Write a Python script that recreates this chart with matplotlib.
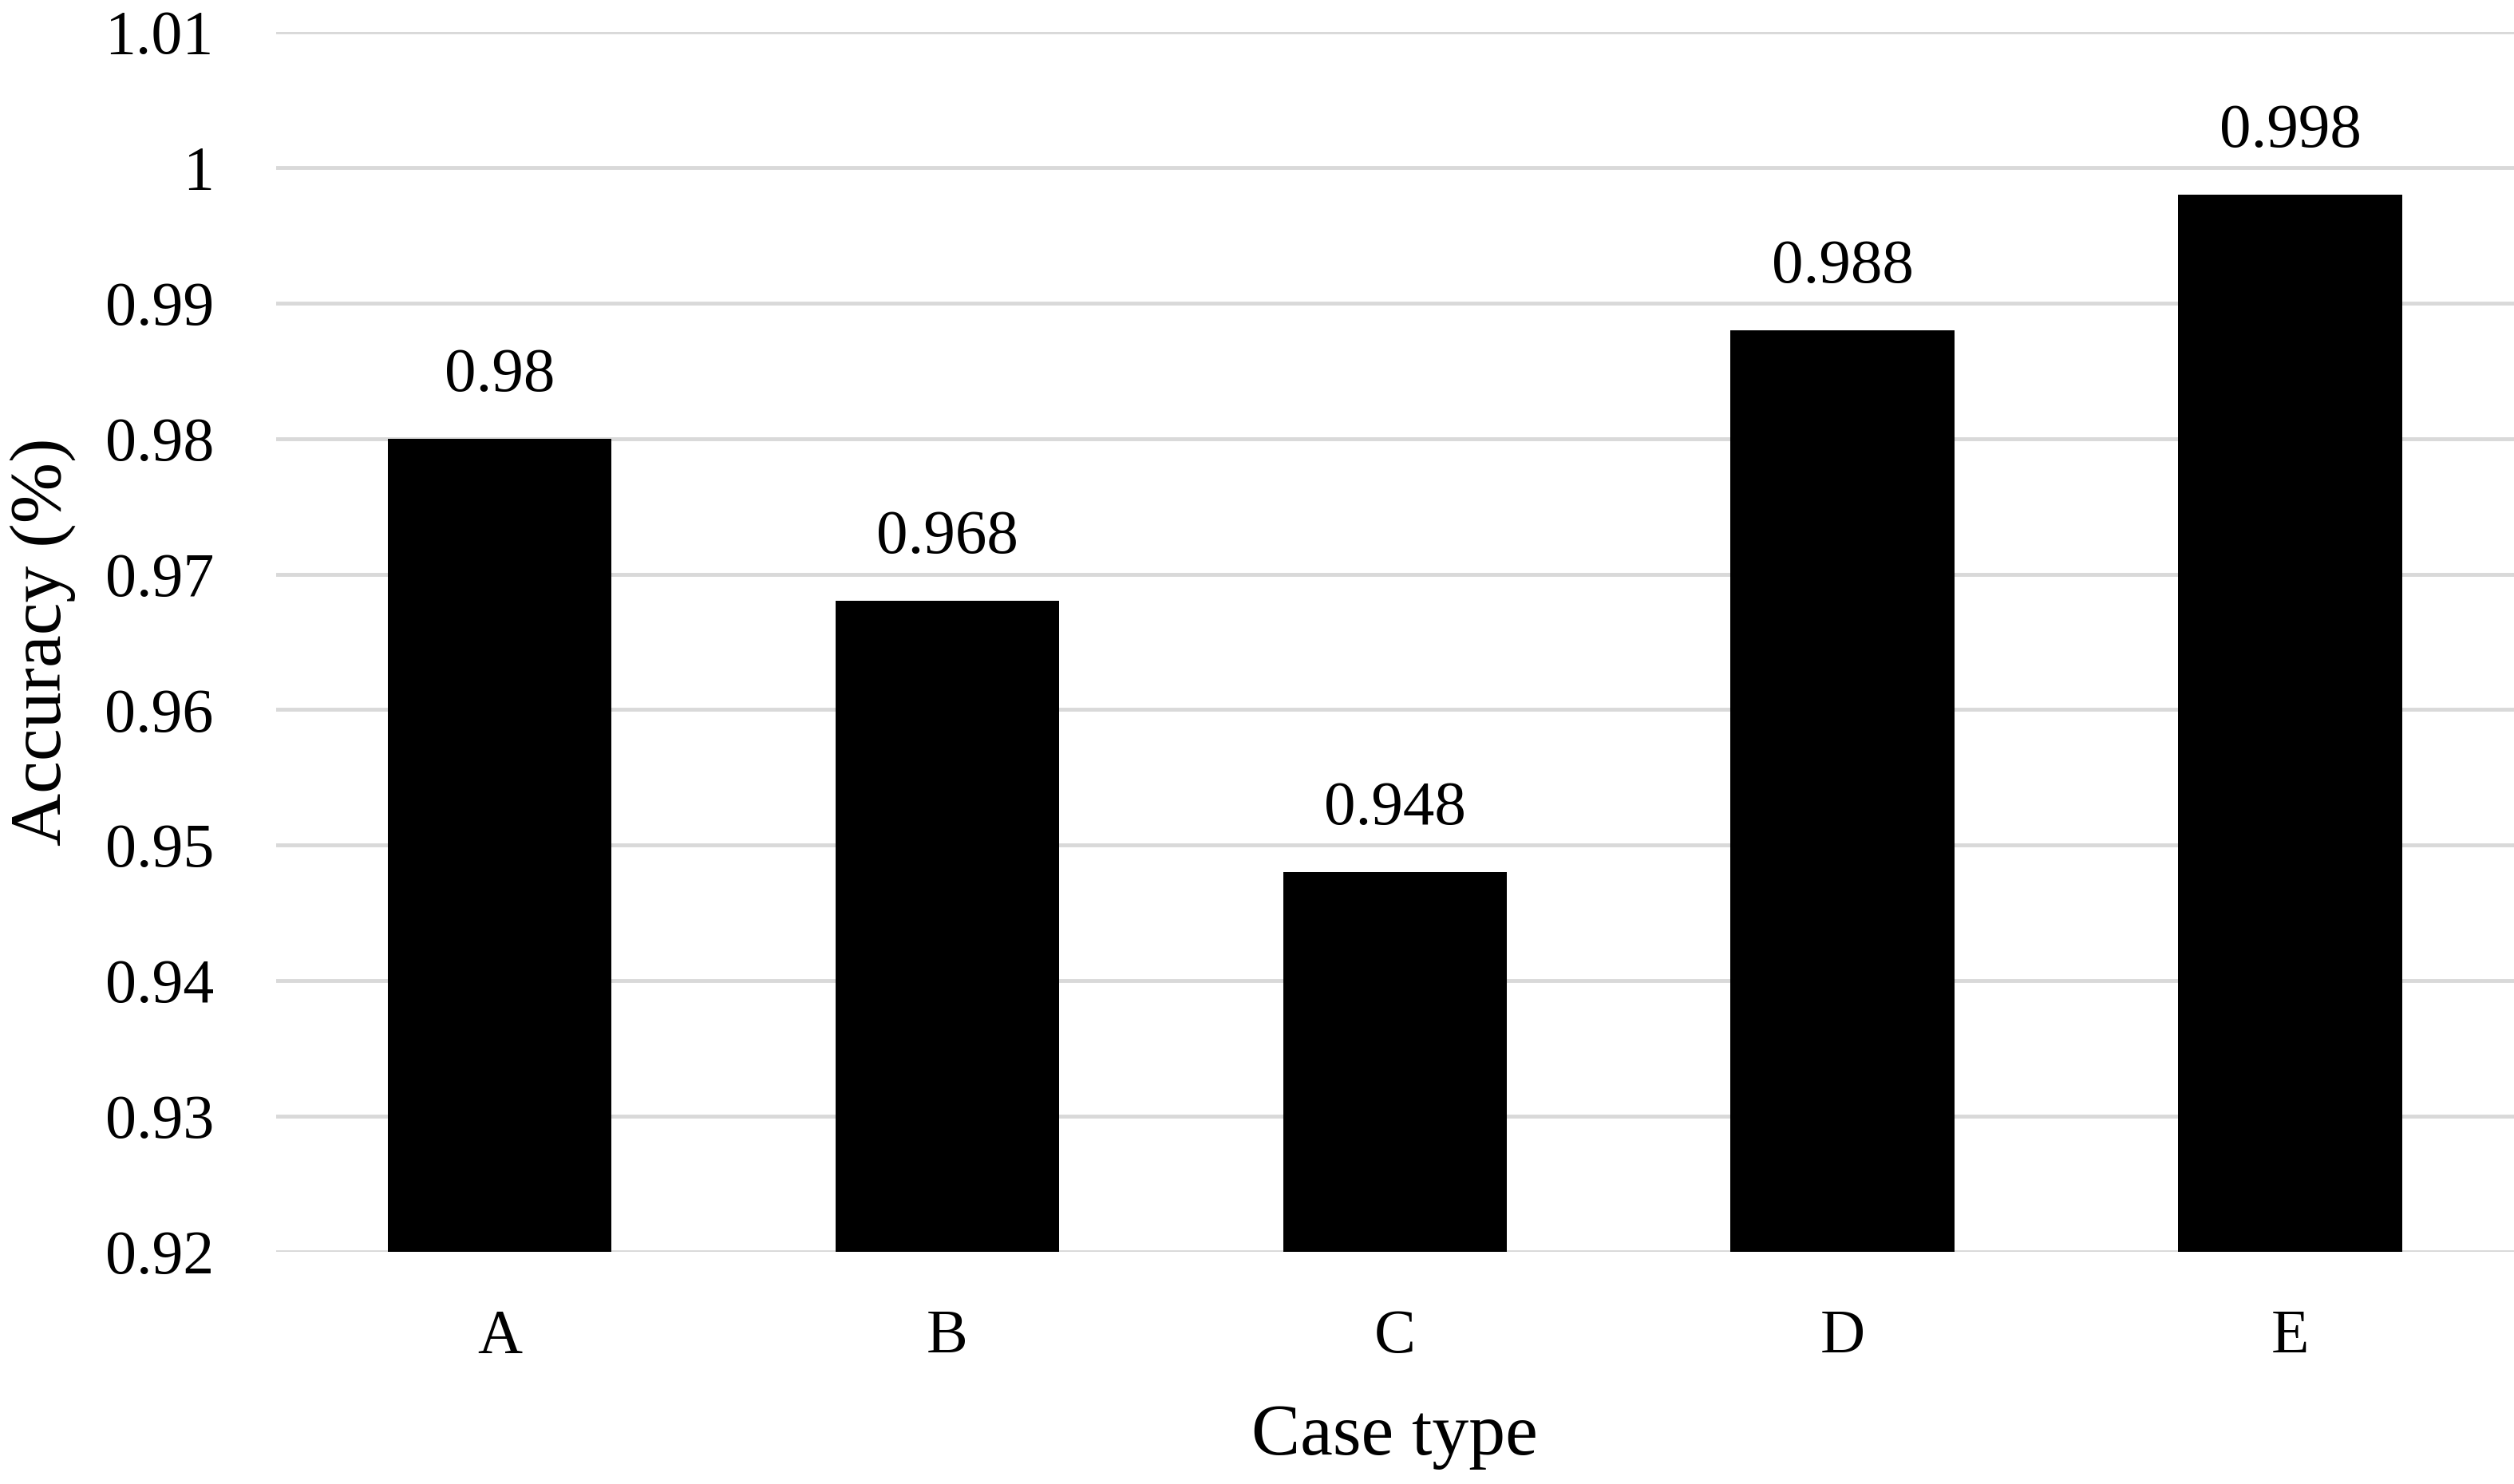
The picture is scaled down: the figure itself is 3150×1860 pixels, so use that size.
import matplotlib
matplotlib.use('Agg')
import matplotlib.pyplot as plt

cases = ['A', 'B', 'C', 'D', 'E']
accuracy = [0.98, 0.968, 0.948, 0.988, 0.998]
value_labels = ['0.98', '0.968', '0.948', '0.988', '0.998']
yticks = [0.92, 0.93, 0.94, 0.95, 0.96, 0.97, 0.98, 0.99, 1.0, 1.01]
ytick_labels = ['0.92', '0.93', '0.94', '0.95', '0.96', '0.97', '0.98', '0.99', '1', '1.01']


def main():
    plt.rcParams['font.family'] = ['Liberation Serif', 'DejaVu Serif']
    fs = 56

    fig = plt.figure(figsize=(31.5, 18.6), dpi=100)
    ax = fig.add_axes([0.1097, 0.1566, 0.8903, 0.8218])

    x = range(len(cases))
    ax.bar(x, accuracy, width=0.5, color='black', zorder=3)

    for xi, v, s in zip(x, accuracy, value_labels):
        ax.annotate(s, (xi, v), xytext=(0, 31), textcoords='offset points',
                    ha='center', va='bottom', fontsize=57)

    ax.set_xlim(-0.5, len(cases) - 0.5)
    ax.set_ylim(0.92, 1.01)
    ax.set_yticks(yticks)
    ax.set_yticklabels(ytick_labels)
    ax.set_xticks(list(x))
    ax.set_xticklabels(cases)
    ax.tick_params(axis='both', length=0, labelsize=fs)
    ax.tick_params(axis='y', pad=56)
    ax.tick_params(axis='x', pad=52)

    ax.grid(axis='y', color='#d9d9d9', linewidth=3.5, zorder=0)
    for sp in ax.spines.values():
        sp.set_visible(False)

    ax.set_xlabel('Case type', fontsize=66, va='center')
    ax.set_ylabel('Accuracy (%)', fontsize=66, va='center')
    ax.xaxis.set_label_coords(0.5, -0.152)
    ax.yaxis.set_label_coords(-0.104, 0.5)

    fig.savefig('out.png', dpi=100, facecolor='white')


if __name__ == '__main__':
    main()
